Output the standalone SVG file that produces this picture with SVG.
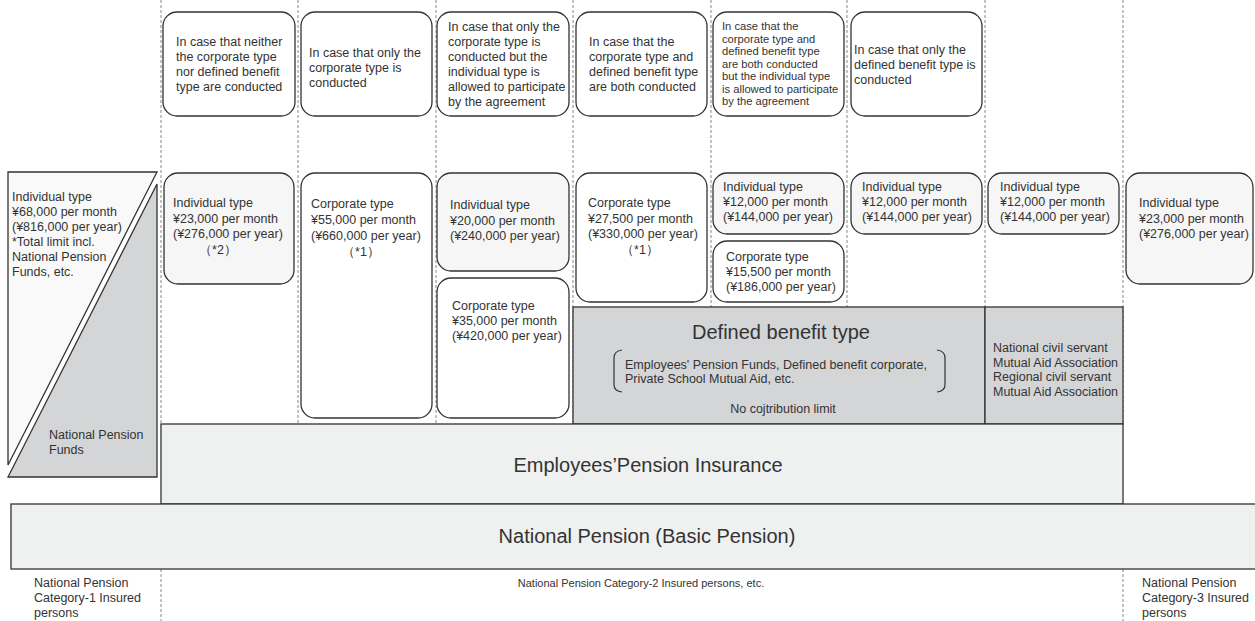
<svg xmlns="http://www.w3.org/2000/svg" width="1255" height="621" viewBox="0 0 1255 621">
<style>
text{font-family:"Liberation Sans",Arial,sans-serif;fill:#333;}
.t{font-size:12.5px;}
.s{font-size:11.2px;}
.m{font-size:11px;}
.b{font-size:20px;}
.box{fill:#fff;stroke:#333;stroke-width:1.3;}
.ind{fill:#f6f6f6;stroke:#333;stroke-width:1.3;}
.gray{fill:#d4d5d7;stroke:#333;stroke-width:1.3;}
.base{fill:#eff0f0;stroke:#333;stroke-width:1.3;}
.dash{stroke:#888;stroke-width:1;stroke-dasharray:3,2;fill:none;}
</style>
<g id="connectors">
<line class="dash" x1="161" y1="0" x2="161" y2="424"/>
<line class="dash" x1="298" y1="0" x2="298" y2="424"/>
<line class="dash" x1="436" y1="0" x2="436" y2="424"/>
<line class="dash" x1="573" y1="0" x2="573" y2="424"/>
<line class="dash" x1="711" y1="0" x2="711" y2="307"/>
<line class="dash" x1="847" y1="0" x2="847" y2="307"/>
<line class="dash" x1="985" y1="0" x2="985" y2="307"/>
<line class="dash" x1="1123" y1="0" x2="1123" y2="424"/>
<line class="dash" x1="161" y1="569" x2="161" y2="621"/>
<line class="dash" x1="1123" y1="569" x2="1123" y2="621"/>
</g>
<g id="case1"><rect class="box" x="163" y="12" width="132" height="104" rx="14"/>
<text class="t" x="176" y="46">In case that neither</text><text class="t" x="176" y="61">the corporate type</text><text class="t" x="176" y="76">nor defined benefit</text><text class="t" x="176" y="91">type are conducted</text></g>
<g id="case2"><rect class="box" x="301" y="12" width="131" height="104" rx="14"/>
<text class="t" x="309" y="57">In case that only the</text><text class="t" x="309" y="72">corporate type is</text><text class="t" x="309" y="87">conducted</text></g>
<g id="case3"><rect class="box" x="437" y="12" width="132" height="104" rx="14"/>
<text class="t" x="448" y="31">In case that only the</text><text class="t" x="448" y="46">corporate type is</text><text class="t" x="448" y="61">conducted but the</text><text class="t" x="448" y="76">individual type is</text><text class="t" x="448" y="91">allowed to participate</text><text class="t" x="448" y="106">by the agreement</text></g>
<g id="case4"><rect class="box" x="576" y="12" width="131" height="104" rx="14"/>
<text class="t" x="589" y="46">In case that the</text><text class="t" x="589" y="61">corporate type and</text><text class="t" x="589" y="76">defined benefit type</text><text class="t" x="589" y="91">are both conducted</text></g>
<g id="case5"><rect class="box" x="713" y="12" width="131" height="104" rx="14"/>
<text class="s" x="722" y="30">In case that the</text><text class="s" x="722" y="42.5">corporate type and</text><text class="s" x="722" y="55">defined benefit type</text><text class="s" x="722" y="67.5">are both conducted</text><text class="s" x="722" y="80">but the individual type</text><text class="s" x="722" y="92.5">is allowed to participate</text><text class="s" x="722" y="105">by the agreement</text></g>
<g id="case6"><rect class="box" x="851" y="12" width="131" height="104" rx="14"/>
<text class="t" x="854" y="54">In case that only the</text><text class="t" x="854" y="69">defined benefit type is</text><text class="t" x="854" y="84">conducted</text></g>

<g id="np-funds">
<polygon points="8,172 157,172 8,465" fill="#f9f9f9" stroke="#333" stroke-width="1.3"/>
<polygon points="157,184 157,477 8,477" class="gray"/>
<text class="t" x="12" y="201">Individual type</text><text class="t" x="12" y="216">¥68,000 per month</text><text class="t" x="12" y="231">(¥816,000 per year)</text><text class="t" x="12" y="246">*Total limit incl.</text><text class="t" x="12" y="261">National Pension</text><text class="t" x="12" y="276">Funds, etc.</text>
<text class="t" x="49" y="439">National Pension</text><text class="t" x="49" y="454">Funds</text>
</g>
<g id="c1-ind"><rect class="ind" x="164" y="173" width="130" height="111" rx="14"/>
<text class="t" x="173" y="207">Individual type</text><text class="t" x="173" y="222.5">¥23,000 per month</text><text class="t" x="173" y="238">(¥276,000 per year)</text><text class="t" x="218" y="254" text-anchor="middle">（*2）</text></g>
<g id="c2-corp"><rect class="box" x="301" y="173" width="131" height="245" rx="14"/>
<text class="t" x="311" y="208">Corporate type</text><text class="t" x="311" y="224">¥55,000 per month</text><text class="t" x="311" y="240">(¥660,000 per year)</text><text class="t" x="361" y="256" text-anchor="middle">（*1）</text></g>
<g id="c3-ind"><rect class="ind" x="437" y="173" width="132" height="98" rx="14"/>
<text class="t" x="450" y="209">Individual type</text><text class="t" x="450" y="224.5">¥20,000 per month</text><text class="t" x="450" y="240">(¥240,000 per year)</text></g>
<g id="c3-corp"><rect class="box" x="437" y="278" width="132" height="140" rx="14"/>
<text class="t" x="452" y="310">Corporate type</text><text class="t" x="452" y="325">¥35,000 per month</text><text class="t" x="452" y="340">(¥420,000 per year)</text></g>
<g id="c4-corp"><rect class="box" x="576" y="173" width="131" height="129" rx="14"/>
<text class="t" x="588" y="207">Corporate type</text><text class="t" x="588" y="222.5">¥27,500 per month</text><text class="t" x="588" y="238">(¥330,000 per year)</text><text class="t" x="640" y="254" text-anchor="middle">（*1）</text></g>
<g id="c5-ind"><rect class="ind" x="713" y="173" width="131" height="61" rx="14"/>
<text class="t" x="723" y="191">Individual type</text><text class="t" x="723" y="206">¥12,000 per month</text><text class="t" x="723" y="221">(¥144,000 per year)</text></g>
<g id="c5-corp"><rect class="box" x="713" y="241" width="131" height="61" rx="14"/>
<text class="t" x="726" y="261">Corporate type</text><text class="t" x="726" y="276">¥15,500 per month</text><text class="t" x="726" y="291">(¥186,000 per year)</text></g>
<g id="c6-ind"><rect class="ind" x="851" y="173" width="131" height="61" rx="14"/>
<text class="t" x="862" y="191">Individual type</text><text class="t" x="862" y="206">¥12,000 per month</text><text class="t" x="862" y="221">(¥144,000 per year)</text></g>
<g id="c7-ind"><rect class="ind" x="988" y="173" width="131" height="61" rx="14"/>
<text class="t" x="1000" y="191">Individual type</text><text class="t" x="1000" y="206">¥12,000 per month</text><text class="t" x="1000" y="221">(¥144,000 per year)</text></g>
<g id="c8-ind"><rect class="ind" x="1126" y="173" width="127" height="111" rx="14"/>
<text class="t" x="1139" y="207">Individual type</text><text class="t" x="1139" y="222.5">¥23,000 per month</text><text class="t" x="1139" y="238">(¥276,000 per year)</text></g>

<g id="defined-benefit"><rect class="gray" x="573" y="307" width="412" height="117"/>
<text class="b" x="781" y="339" text-anchor="middle">Defined benefit type</text>
<path d="M622,350 Q614,351 614,358 L614,385 Q614,391 622,392" fill="none" stroke="#333" stroke-width="1.2"/>
<path d="M937,350 Q945,351 945,358 L945,385 Q945,391 937,392" fill="none" stroke="#333" stroke-width="1.2"/>
<text class="t" x="625" y="369">Employees' Pension Funds, Defined benefit corporate,</text>
<text class="t" x="625" y="383">Private School Mutual Aid, etc.</text>
<text class="t" x="783" y="413" text-anchor="middle">No cojtribution limit</text></g>
<g id="civil-servant"><rect class="gray" x="985" y="307" width="138" height="117"/>
<text class="t" x="993" y="352">National civil servant</text><text class="t" x="993" y="367">Mutual Aid Association</text><text class="t" x="993" y="381">Regional civil servant</text><text class="t" x="993" y="396">Mutual Aid Association</text></g>
<g id="employees-pension"><rect class="base" x="161" y="424" width="962" height="80"/>
<text class="b" x="648" y="472" text-anchor="middle">Employees’Pension Insurance</text></g>
<g id="national-pension"><rect class="base" x="11" y="504" width="1250" height="65"/>
<text class="b" x="647" y="543" text-anchor="middle">National Pension (Basic Pension)</text></g>
<g id="labels">
<text class="t" x="34" y="587">National Pension</text><text class="t" x="34" y="602">Category-1 Insured</text><text class="t" x="34" y="617">persons</text>
<text class="m" x="641" y="587" text-anchor="middle">National Pension Category-2 Insured persons, etc.</text>
<text class="t" x="1142" y="587">National Pension</text><text class="t" x="1142" y="602">Category-3 Insured</text><text class="t" x="1142" y="617">persons</text>
</g>
</svg>
